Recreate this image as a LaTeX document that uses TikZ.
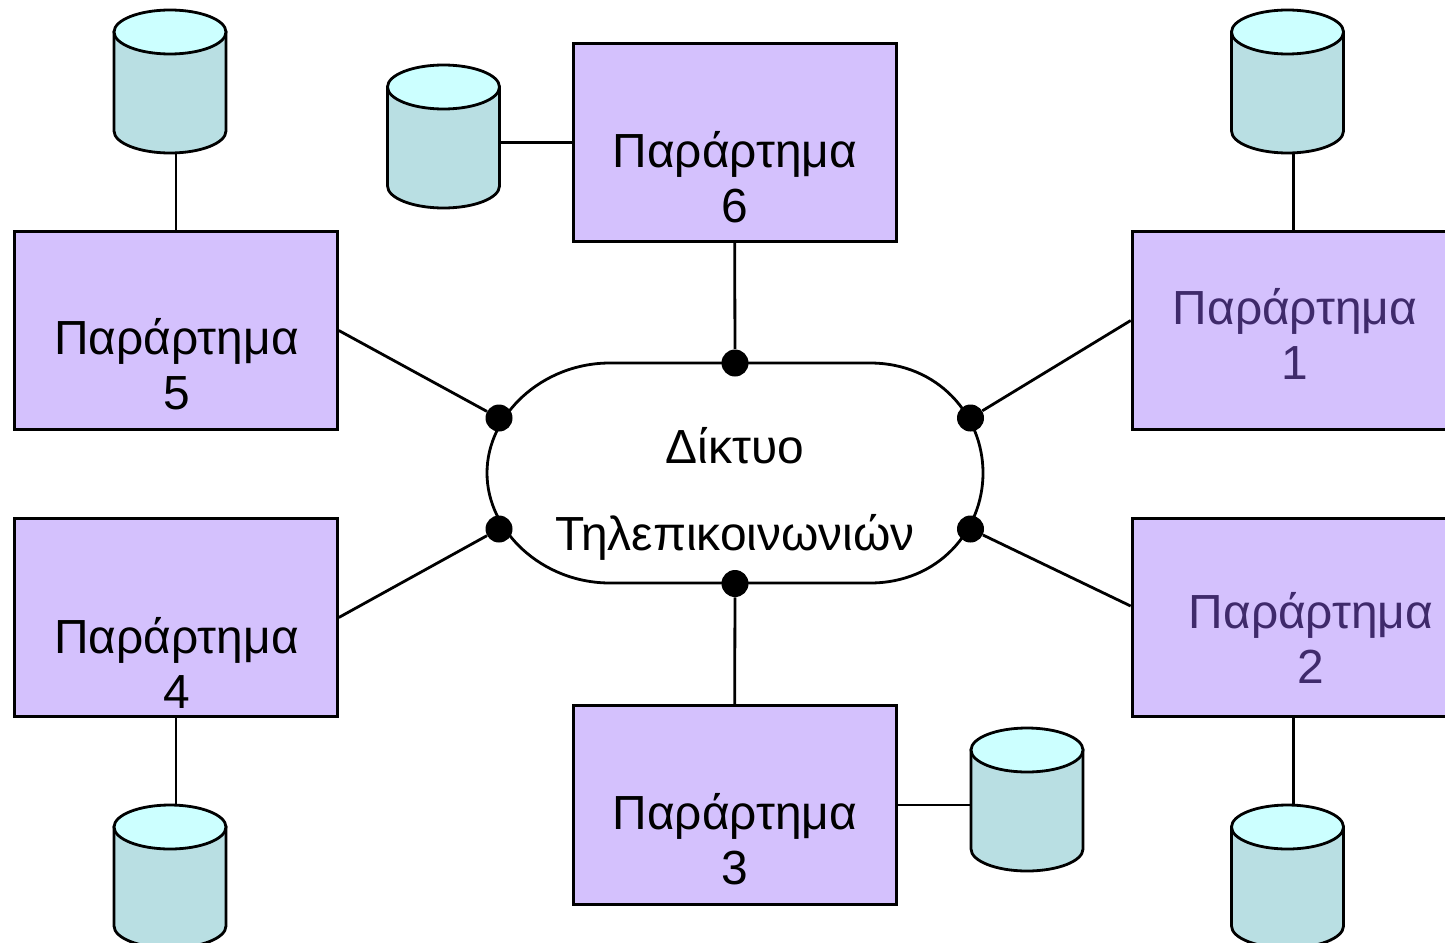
\documentclass[tikz,border=0pt]{standalone}
\usepackage{fontspec}
\setmainfont{Liberation Sans}
\definecolor{boxfill}{HTML}{D4C1FD}
\definecolor{cylbody}{HTML}{B9DFE3}
\definecolor{cyltop}{HTML}{CCFFFF}
\definecolor{darkviolet}{HTML}{3F2A6B}
\newlength{\pxu}\setlength{\pxu}{0.75pt}
\tikzset{
  line/.style={draw=black,line width=2.1pt},
  branch/.style={line},
  boxnode/.style={line,fill=boxfill,rectangle,minimum width=322.8\pxu,minimum height=198.6\pxu,inner sep=0pt},
  junction/.style={circle,fill=black,draw=none,minimum size=27\pxu,inner sep=0pt},
  lab/.style={font=\fontsize{35.9}{41.4}\selectfont,align=center,inner sep=0pt,text=black},
  lab2/.style={lab,text=darkviolet},
  cylanchor/.style={rectangle,minimum width=112\pxu,minimum height=144\pxu,inner sep=0pt},
}
\newcommand{\dbcyl}[3]{% name, cx, top y
  \draw[line,fill=cylbody] (#2-56,#3+22) -- (#2-56,#3+121)
    .. controls (#2-56,#3+133) and (#2-31,#3+143) .. (#2,#3+143)
    .. controls (#2+31,#3+143) and (#2+56,#3+133) .. (#2+56,#3+121)
    -- (#2+56,#3+22) -- cycle;
  \draw[line,fill=cyltop] (#2-56,#3+22)
    .. controls (#2-56,#3+10) and (#2-31,#3) .. (#2,#3)
    .. controls (#2+31,#3) and (#2+56,#3+10) .. (#2+56,#3+22)
    .. controls (#2+56,#3+34) and (#2+31,#3+44) .. (#2,#3+44)
    .. controls (#2-31,#3+44) and (#2-56,#3+34) .. (#2-56,#3+22) -- cycle;
  \node[cylanchor] (#1) at (#2,#3+72) {};
}
\begin{document}
\begin{tikzpicture}[x=0.75pt,y=-0.75pt]
\useasboundingbox (0,0) rectangle (1445,942);
\clip (0,0) rectangle (1445,942);
% cylinders
\dbcyl{c5}{170}{10}
\dbcyl{c6}{443.5}{65}
\dbcyl{c1}{1287.5}{10}
\dbcyl{c4}{170}{805}
\dbcyl{c2}{1287.5}{805}
\dbcyl{c3}{1027}{728}
% boxes
\node[boxnode] (b5) at (176,330.5) {};
\node[boxnode] (b6) at (734.7,142.5) {};
\node[boxnode] (b1) at (1293.5,330.5) {};
\node[boxnode] (b4) at (176,617.5) {};
\node[boxnode] (b3) at (734.7,805) {};
\node[boxnode] (b2) at (1293.5,617.5) {};
% network
\draw[line,fill=white] (610,363) -- (870,363)
  .. controls (938,363) and (983,415) .. (983,473)
  .. controls (983,531) and (938,583) .. (870,583)
  -- (610,583)
  .. controls (542,583) and (487,531) .. (487,473)
  .. controls (487,415) and (542,363) .. (610,363) -- cycle;
\node[junction] (dT) at (735,363) {};
\node[junction] (dB) at (735,583.5) {};
\node[junction] (dUL) at (499,418) {};
\node[junction] (dUR) at (970.5,418) {};
\node[junction] (dLL) at (499,529) {};
\node[junction] (dLR) at (970.5,529) {};
\node[lab] (net1) at (735,446) {Δίκτυο};
\node[lab] (net2) at (735,537) {Τηλεπικοινωνιών};
% connectors
\draw[branch] (b6.south) -- (dT);
\draw[branch] (b3.north) -- (dB);
\draw[branch] (b5.east) -- (dUL);
\draw[branch] (b4.east) -- (dLL);
\draw[branch] ([yshift=7.5pt]b1.west) -- (dUR);
\draw[branch] ([yshift=8.6pt]b2.west) -- (dLR);
\draw[branch] (c6.east |- b6.west) -- (b6.west);
\draw[branch] (b3.east) -- (c3.west |- b3.east);
\draw[branch] (b5.north) -- (b5.north |- c5.south);
\draw[branch] (b4.south) -- (b4.south |- c4.north);
\draw[branch] (b1.north) -- (b1.north |- c1.south);
\draw[branch] (b2.south) -- (b2.south |- c2.north);
% labels
\node[lab] (t6) at (735,177.5) {Παράρτημα\\6};
\node[lab] (t5) at (176.5,364) {Παράρτημα\\5};
\node[lab] (t4) at (176.5,663) {Παράρτημα\\4};
\node[lab] (t3) at (735,839) {Παράρτημα\\3};
\node[lab2] (t1) at (1295,334) {Παράρτημα\\1};
\node[lab2] (t2) at (1311,638) {Παράρτημα\\2};
\end{tikzpicture}
\end{document}
